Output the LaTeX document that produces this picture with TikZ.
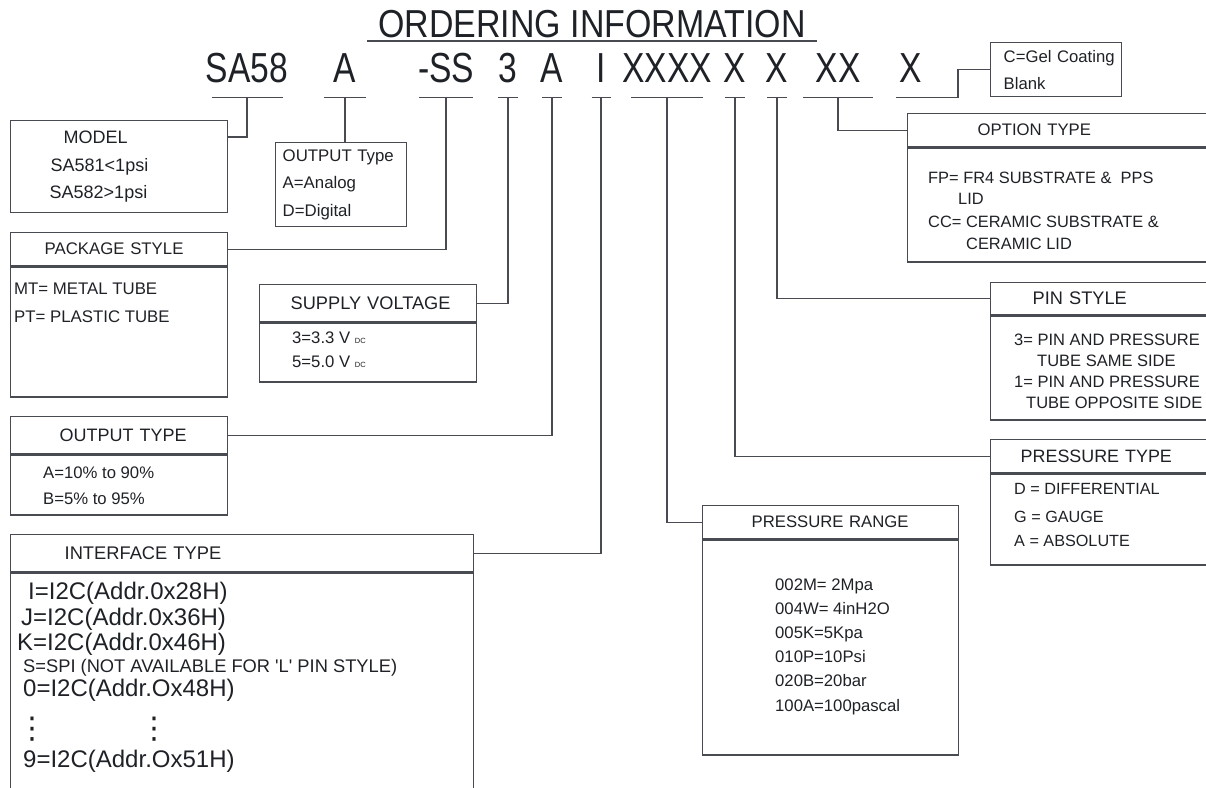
\documentclass[tikz,border=0pt]{standalone}
\usepackage{fontspec}
\setmainfont{Liberation Sans}
\newfontfamily\titlefont{Liberation Sans}[FakeStretch=0.87]
\newfontfamily\codefont{Liberation Sans}[FakeStretch=0.8]
\newfontfamily\symfont{DejaVu Sans}
\usetikzlibrary{positioning, calc}
\definecolor{linecol}{RGB}{72,76,82}
\definecolor{inkcol}{RGB}{30,33,38}
\newcommand{\dcmark}{{\fontsize{7.5}{8}\selectfont DC}}
\tikzset{
    wire/.style={draw=linecol, line width=1.4pt},
    frame/.style={draw=linecol, line width=1.4pt, inner sep=0pt, text=inkcol},
    head/.style={frame, anchor=north west, align=left, font=\fontsize{18}{20}\selectfont},
    sheet/.style={frame},
    % entries are placed at the baseline of their last line
    entry/.style={anchor=base west, inner sep=0pt, align=left, text=inkcol},
    field/.style={anchor=south, inner sep=0pt, text depth=14.7pt, text=inkcol, font=\codefont\fontsize{42}{42}\selectfont}
}

\begin{document}
\begin{tikzpicture}[x=1pt, y=-1pt]
    \useasboundingbox (0,0) rectangle (1206,787);
    \clip (0,0) rectangle (1206,787);

    % title and part number fields
    \node[anchor=south, inner sep=0pt, text depth=3pt, text=inkcol, font=\titlefont\fontsize{39}{39}\selectfont] (title) at (592,41) {ORDERING INFORMATION};
    \draw[wire] ([xshift=-225pt]title.south) -- ([xshift=225pt]title.south);

    \node[field] (f1) at (247,97.7) {SA58};
    \node[field] (f2) at (345,97.7) {A};
    \node[field] (f3) at (446,97.7) {-SS};
    \node[field] (f4) at (508,97.7) {3};
    \node[field] (f5) at (552,97.7) {A};
    \node[field] (f6) at (601,97.7) {I};
    \node[field] (f7) at (667,97.7) {XXXX};
    \node[field] (f8) at (735,97.7) {X};
    \node[field] (f9) at (777,97.7) {X};
    \node[field] (f10) at (838,97.7) {XX};
    \node[field] (f11) at (911,97.7) {X};
    \foreach \f/\w in {f1/35.5pt, f2/21pt, f3/27pt, f4/10pt, f5/10pt, f6/9.5pt, f7/36pt, f8/10pt, f9/10pt, f10/35pt, f11/15pt}
        \draw[wire] ([xshift=-\w]\f.south) -- ([xshift=\w]\f.south);

    % plain boxes
    \node[head, text width=217pt, minimum height=92pt, font=\fontsize{18}{27.5}\selectfont] (model) at (10,120) {\hspace*{53pt}MODEL\\\hspace*{40pt}SA581<1psi\\\hspace*{39pt}SA582>1psi};
    \node[head, text width=131pt, minimum height=84pt, font=\fontsize{16.8}{27.5}\selectfont] (outsel) at (275,142) {\hspace*{7pt}OUTPUT Type\\\hspace*{7pt}A=Analog\\\hspace*{7pt}D=Digital};
    \node[head, text width=131pt, minimum height=54pt, font=\fontsize{16.7}{27}\selectfont] (gel) at (990,42) {\hspace*{13pt}C=Gel Coating\\\hspace*{13pt}Blank};

    % boxes with a header
    \node[head, text width=217pt, minimum height=33pt, font=\fontsize{16.8}{20}\selectfont] (pkghead) at (10,232) {\hspace*{34pt}PACKAGE STYLE};
    \node[sheet, below=0pt of pkghead, minimum width=217pt, minimum height=130pt] (pkgbody) {};
    \node[entry, font=\fontsize{16.8}{28}\selectfont] (pkgtext) at (14,322) {MT= METAL TUBE\\PT= PLASTIC TUBE};

    \node[head, text width=217pt, minimum height=37pt, font=\fontsize{18.2}{20}\selectfont] (supplyhead) at (259,284) {\hspace*{31pt}SUPPLY VOLTAGE};
    \node[sheet, below=0pt of supplyhead, minimum width=217pt, minimum height=59pt] (supplybody) {};
    \node[entry, font=\fontsize{16.7}{24}\selectfont] (supplytext) at (292,367) {3=3.3 V \dcmark\\5=5.0 V \dcmark};

    \node[head, text width=217pt, minimum height=37pt] (outhead) at (10,416) {\hspace*{49pt}OUTPUT TYPE};
    \node[sheet, below=0pt of outhead, minimum width=217pt, minimum height=60pt] (outbody) {};
    \node[entry, font=\fontsize{16.7}{26}\selectfont] (outtext) at (43,504) {A=10\% to 90\%\\B=5\% to 95\%};

    \node[head, text width=463pt, minimum height=37pt, font=\fontsize{18.3}{20}\selectfont] (ifacehead) at (10,534) {\hspace*{54pt}INTERFACE TYPE};
    \node[sheet, below=0pt of ifacehead, minimum width=463pt, minimum height=260pt] (ifacebody) {};
    \node[entry, font=\fontsize{24}{25.5}\selectfont] (ifacetext) at (17,767.5) {\hspace*{11pt}I=I2C(Addr.0x28H)\\\hspace*{4pt}J=I2C(Addr.0x36H)\\K=I2C(Addr.0x46H)\\[-3.5pt]\hspace*{6pt}{\fontsize{18.3}{20}\selectfont S=SPI (NOT AVAILABLE FOR \textquotesingle L\textquotesingle\ PIN STYLE)}\\[-1.5pt]\hspace*{6pt}0=I2C(Addr.Ox48H)\\[14pt]{\symfont\fontsize{30}{30}\selectfont ⋮\hspace*{92pt}⋮}\\[4pt]\hspace*{6pt}9=I2C(Addr.Ox51H)};

    \node[head, text width=256pt, minimum height=33pt, font=\fontsize{16.7}{20}\selectfont] (rangehead) at (702,505) {\hspace*{49pt}PRESSURE RANGE};
    \node[sheet, below=0pt of rangehead, minimum width=256pt, minimum height=215pt] (rangebody) {};
    \node[entry, font=\fontsize{16.7}{24.2}\selectfont] (rangetext) at (775,711) {002M= 2Mpa\\004W= 4inH2O\\005K=5Kpa\\010P=10Psi\\020B=20bar\\100A=100pascal};

    \node[head, text width=323pt, minimum height=33pt, font=\fontsize{16.7}{20}\selectfont] (opthead) at (907,113) {\hspace*{70pt}OPTION TYPE};
    \node[sheet, below=0pt of opthead, minimum width=323pt, minimum height=114pt] (optbody) {};
    \node[entry, font=\fontsize{16.4}{21.7}\selectfont] (opttext) at (928,249.4) {FP= FR4 SUBSTRATE \&\ \ PPS\\\hspace*{30pt}LID\\[1.3pt]CC= CERAMIC SUBSTRATE \&\\\hspace*{38pt}CERAMIC LID};

    \node[head, text width=240pt, minimum height=32pt, font=\fontsize{18.2}{20}\selectfont] (pinhead) at (990,282) {\hspace*{42pt}PIN STYLE};
    \node[sheet, below=0pt of pinhead, minimum width=240pt, minimum height=104pt] (pinbody) {};
    \node[entry, font=\fontsize{16.5}{20.7}\selectfont] (pintext) at (1014,408) {3= PIN AND PRESSURE\\\hspace*{23pt}TUBE SAME SIDE\\1= PIN AND PRESSURE\\\hspace*{12pt}TUBE OPPOSITE SIDE};

    \node[head, text width=240pt, minimum height=33pt, font=\fontsize{17.9}{20}\selectfont] (ptypehead) at (990,439) {\hspace*{30pt}PRESSURE TYPE};
    \node[sheet, below=0pt of ptypehead, minimum width=240pt, minimum height=91pt] (ptypebody) {};
    \node[entry, font=\fontsize{16.2}{26}\selectfont] (ptypetext) at (1014,546) {D = DIFFERENTIAL\\[2pt]G = GAUGE\\[-2pt]A = ABSOLUTE};

    % connectors
    \draw[wire] (f1.south) |- ([yshift=-17pt]model.north east);
    \draw[wire] (f2.south) -- (f2.south |- outsel.north);
    \draw[wire] (f3.south) |- (pkghead.east);
    \draw[wire] (f4.south) |- (supplyhead.east);
    \draw[wire] (f5.south) |- (outhead.east);
    \draw[wire] (f6.south) |- (ifacehead.east);
    \draw[wire] (f7.south) |- (rangehead.west);
    \draw[wire] (f8.south) |- (ptypehead.west);
    \draw[wire] (f9.south) |- (pinhead.west);
    \draw[wire] (f10.south) |- (opthead.west);
    \draw[wire] ([xshift=15pt]f11.south) -| ($([xshift=15pt]f11.south)!.5!(gel.west)$) |- (gel.west);
\end{tikzpicture}
\end{document}
